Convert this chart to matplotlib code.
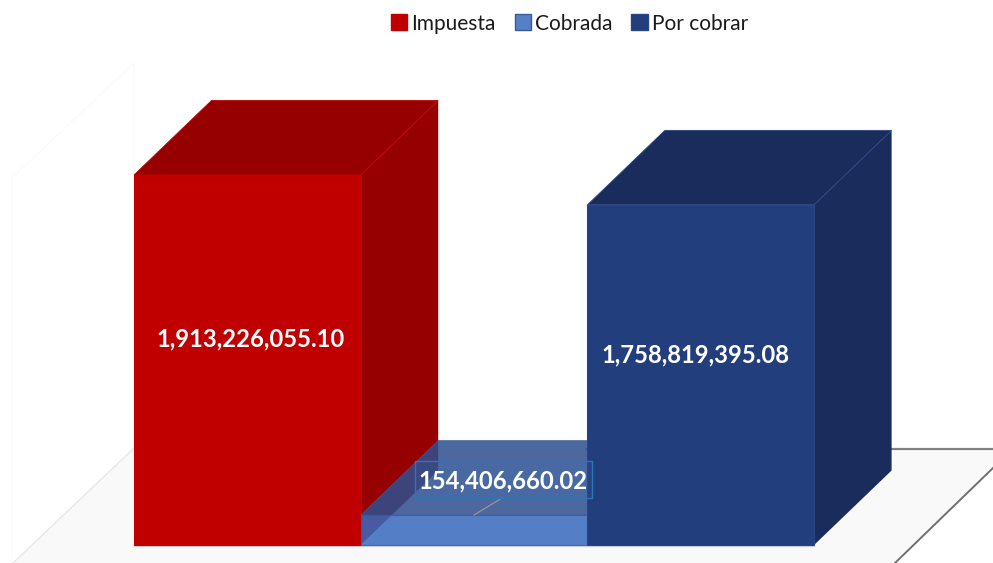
import matplotlib
matplotlib.use("Agg")
import matplotlib.pyplot as plt
from matplotlib.patches import Patch, Polygon, Rectangle
from matplotlib.transforms import Affine2D

categories = ["Impuesta", "Cobrada", "Por cobrar"]
values = [1913226055.10, 154406660.02, 1758819395.08]
value_labels = ["1,913,226,055.10", "154,406,660.02", "1,758,819,395.08"]

W, H = 993, 563
BAR_LEFT = 134
BAR_W = 226.7
BASE_Y = 545
PX_PER_UNIT = 370 / 1913226055.10
DEPTH_X = 77.5 / BAR_W
DEPTH_Y = 74.5 / PX_PER_UNIT

front_colors = ["#c00000", "#396bbf", "#233e7c"]
dark_colors = ["#960000", "#2f5090", "#1a2c5c"]
alphas = [1, 0.86, 1]
edge_colors = ["#c00000", "#3a5a98", "#2a4584"]
legend_colors = ["#c00000", "#5580c8", "#233e7c"]
label_px = [(251, 339), (503, 481), (695, 355)]

plt.rcParams["font.family"] = ["Lato", "DejaVu Sans"]

fig = plt.figure(figsize=(W / 100, H / 100), dpi=100)
ax = fig.add_axes([0, 0, 1, 1])
ax.set_xlim(-0.5 - BAR_LEFT / BAR_W, -0.5 + (W - BAR_LEFT) / BAR_W)
ax.set_ylim(-(H - BASE_Y) / PX_PER_UNIT, BASE_Y / PX_PER_UNIT)
ax.axis("off")

# walls and floor are plain decoration, so they go in image pixels
px = Affine2D().scale(1, -1).translate(0, H)
ax.add_patch(Polygon([(13, 563), (133, 449), (993, 449), (993, 468), (895, 563)],
                     closed=True, fc="#f9f9f9", ec="none", transform=px, zorder=0))
ax.plot([134, 134, 12, 12], [449, 63, 178, 563], color="#fafafa", lw=0.8,
        transform=px, zorder=0)
ax.plot([13, 133], [563, 449], color="#e8e8e8", lw=1, transform=px, zorder=1)
ax.plot([587, 993], [449, 449], color="#808080", lw=1.6, transform=px, zorder=1)
ax.plot([895, 993], [563, 468], color="#707070", lw=1.4, transform=px, zorder=1)
ax.plot([134, 814], [546, 546], color="#d4d4dc", lw=1, transform=px, zorder=1)

# draw back to front, the blue one sits see through on top of the red side
for i, v in enumerate(values):
    x0, x1 = i - 0.5, i + 0.5
    z = 2 + i * 2
    if i == 1:
        z = 2.5
    side = [(x1, 0), (x1 + DEPTH_X, DEPTH_Y), (x1 + DEPTH_X, v + DEPTH_Y), (x1, v)]
    top = [(x0, v), (x1, v), (x1 + DEPTH_X, v + DEPTH_Y), (x0 + DEPTH_X, v + DEPTH_Y)]
    ax.add_patch(Polygon(side, closed=True, fc=dark_colors[i], ec="none",
                         alpha=alphas[i], zorder=z))
    ax.add_patch(Polygon(top, closed=True, fc=dark_colors[i], ec=edge_colors[i], lw=0.6,
                         alpha=alphas[i], zorder=z))
    ax.bar(i, v, width=1, color=front_colors[i], edgecolor=edge_colors[i], linewidth=0.8,
           alpha=alphas[i], zorder=z + 0.1)

# data labels
ax.plot([502, 474], [498, 515], color="#a09a88", lw=0.8, transform=px, zorder=8)
ax.add_patch(Rectangle((415, 461), 177, 37, fc="#2e75b6", alpha=0.12, ec="none",
                       transform=px, zorder=8))
ax.add_patch(Rectangle((415, 461), 177, 37, fc="none", ec="#2e75b6", lw=1,
                       transform=px, zorder=8))
for (lx, ly), s in zip(label_px, value_labels):
    ax.text(lx, ly, s, transform=px, color="white", fontsize=17.2, fontweight="bold",
            ha="center", va="center", zorder=9)

handles = [Patch(fc=c, ec=e, lw=1) for c, e in zip(legend_colors, edge_colors)]
ax.legend(handles, categories, ncols=3, frameon=False, fontsize=15,
          handlelength=0.78, handleheight=0.78, handletextpad=0.2, columnspacing=0.9,
          loc="center", bbox_to_anchor=(569.5 / W, 1 - 23.5 / H),
          labelcolor="#1a1a1a")

fig.savefig("out.png", dpi=100)
plt.close(fig)
